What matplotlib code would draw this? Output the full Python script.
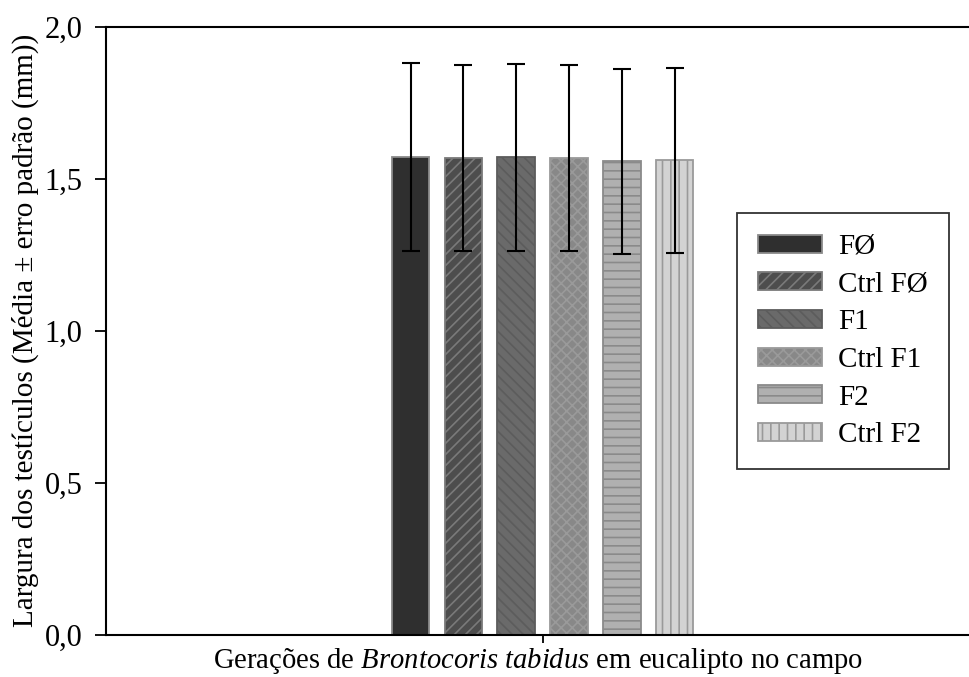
import numpy as np
import matplotlib
matplotlib.use('Agg')
import matplotlib.pyplot as plt

# dados
grupos = ['FØ', 'Ctrl FØ', 'F1', 'Ctrl F1', 'F2', 'Ctrl F2']
medias = [1.572, 1.566, 1.570, 1.567, 1.556, 1.560]
erros = [0.309, 0.306, 0.307, 0.307, 0.304, 0.305]
yticks = [0.0, 0.5, 1.0, 1.5, 2.0]
ytick_labels = ['0,0', '0,5', '1,0', '1,5', '2,0']

# estilo das barras (cor, hachura, cor da hachura)
cores = ['#2f2f2f', '#4d4d4d', '#6a6a6a', '#888888', '#b0b0b0', '#d3d3d3']
hachuras = ['', '///', '\\\\\\', 'xxx', '--', '||']
cor_hach = ['#8a8a8a', '#7a7a7a', '#5c5c5c', '#9a9a9a', '#8a8a8a', '#9a9a9a']

plt.rcParams['font.family'] = ['Liberation Serif', 'DejaVu Serif']
plt.rcParams['mathtext.fontset'] = 'custom'
plt.rcParams['mathtext.rm'] = 'Liberation Serif'
plt.rcParams['mathtext.it'] = 'Liberation Serif:italic'
plt.rcParams['hatch.linewidth'] = 1.2

fig = plt.figure(figsize=(9.7, 6.77), dpi=100)
ax = fig.add_axes([106 / 970, 1 - 634.5 / 677, 1 - 106 / 970, (634.5 - 26.5) / 677])

slot = 1 / 6
n = len(grupos)
xs = (np.arange(n) - (n - 1) / 2) * slot
for i in range(n):
    ax.bar(xs[i], medias[i], width=slot * 0.71, color=cores[i], edgecolor=cor_hach[i],
           hatch=hachuras[i], linewidth=1.3, label=grupos[i], zorder=2)
ax.errorbar(xs, medias, yerr=erros, fmt='none', ecolor='black', elinewidth=1.5,
            capsize=6.5, capthick=1.5, zorder=3)

ax.set_xlim(-1.378, 1.349)
ax.set_ylim(0, 2.0)
ax.set_yticks(yticks)
ax.set_yticklabels(ytick_labels)
ax.set_xticks([0])
ax.set_xticklabels([''])
ax.spines['right'].set_visible(False)
for s in ['left', 'bottom', 'top']:
    ax.spines[s].set_linewidth(1.5)
ax.tick_params(axis='y', direction='out', length=8, width=1.3, labelsize=22, pad=9)
ax.tick_params(axis='x', direction='out', length=6, width=1.3, pad=0)

ax.set_ylabel('Largura dos testículos (Média ± erro padrão (mm))', fontsize=21, labelpad=4)
ax.set_xlabel('Gerações de $\\it{Brontocoris\\ tabidus}$ em eucalipto no campo',
              fontsize=20.6, labelpad=2.5)

leg = ax.legend(loc='upper left', bbox_to_anchor=(737 / 970, 1 - 213 / 677),
                bbox_transform=fig.transFigure, fontsize=21, frameon=True, fancybox=False,
                edgecolor='black', handlelength=2.2, handleheight=0.58, labelspacing=0.4,
                handletextpad=0.55, borderpad=0.72, borderaxespad=0)
leg.get_frame().set_linewidth(1.3)

fig.savefig('out.png', dpi=100)
